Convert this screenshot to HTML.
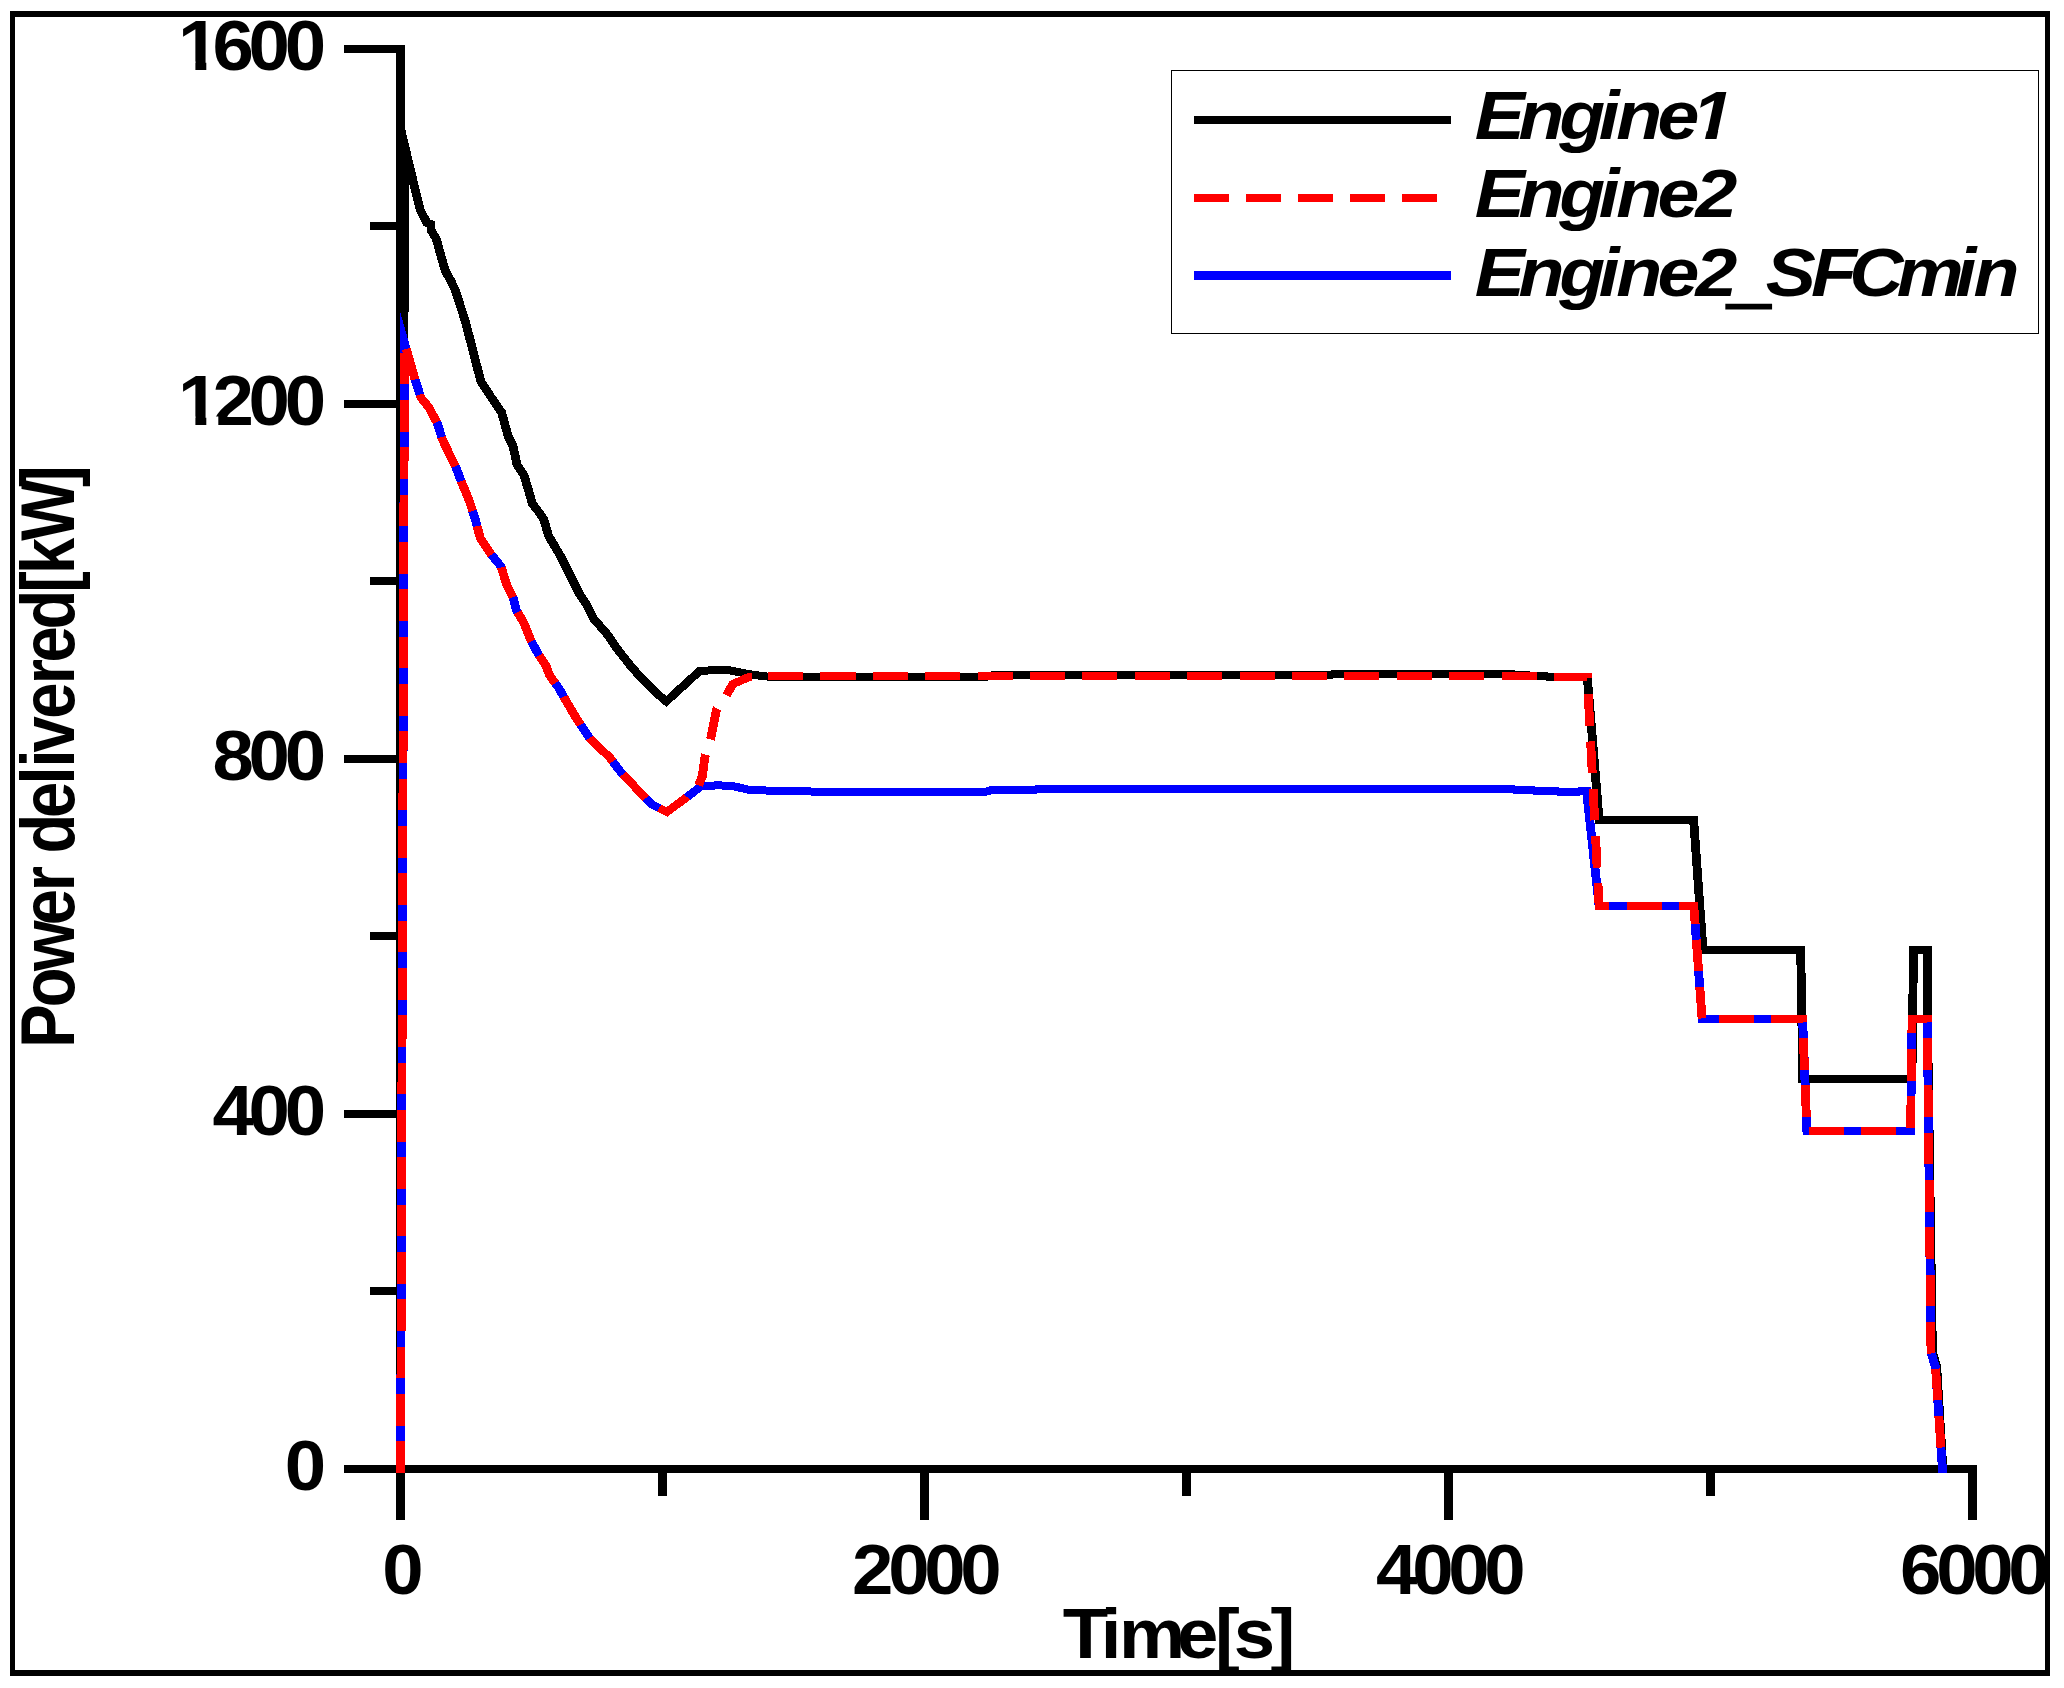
<!DOCTYPE html>
<html lang="en">
<head>
<meta charset="utf-8">
<title>Power delivered vs Time</title>
<style>
html,body{margin:0;padding:0;background:#fff}
body{width:2064px;height:1688px;overflow:hidden}
svg{display:block}
text{fill:#000}
</style>
</head>
<body>
<svg width="2064" height="1688" viewBox="0 0 2064 1688">
<rect x="0" y="0" width="2064" height="1688" fill="#fff"/>
<g id="axes">
<rect x="10" y="11" width="2040" height="6" fill="#000"/>
<rect x="10" y="1670" width="2040" height="6" fill="#000"/>
<rect x="10" y="11" width="5" height="1665" fill="#000"/>
<rect x="2045" y="11" width="5" height="1665" fill="#000"/>
<rect x="396" y="45" width="9" height="1428" fill="#000"/>
<rect x="344" y="1465" width="1633" height="8" fill="#000"/>
<rect x="344" y="45" width="52" height="8" fill="#000"/>
<rect x="344" y="400" width="52" height="8" fill="#000"/>
<rect x="344" y="755" width="52" height="8" fill="#000"/>
<rect x="344" y="1110" width="52" height="8" fill="#000"/>
<rect x="344" y="1465" width="52" height="8" fill="#000"/>
<rect x="370" y="222" width="26" height="8" fill="#000"/>
<rect x="370" y="577" width="26" height="8" fill="#000"/>
<rect x="370" y="932" width="26" height="8" fill="#000"/>
<rect x="370" y="1287" width="26" height="8" fill="#000"/>
<rect x="396" y="1473" width="9" height="47" fill="#000"/>
<rect x="920" y="1473" width="9" height="47" fill="#000"/>
<rect x="1444" y="1473" width="9" height="47" fill="#000"/>
<rect x="1968" y="1473" width="9" height="47" fill="#000"/>
<rect x="658" y="1473" width="9" height="23" fill="#000"/>
<rect x="1182" y="1473" width="9" height="23" fill="#000"/>
<rect x="1706" y="1473" width="9" height="23" fill="#000"/>
</g>
<g id="legend">
<rect x="1171.5" y="70.5" width="867" height="263" fill="none" stroke="#000" stroke-width="1"/>
<rect x="1194" y="116" width="257" height="8" fill="#000"/>
<rect x="1194" y="271" width="257" height="9" fill="#00f"/>
<rect x="1194.0" y="194" width="35" height="8" fill="#f00"/>
<rect x="1246.0" y="194" width="35" height="8" fill="#f00"/>
<rect x="1298.0" y="194" width="35" height="8" fill="#f00"/>
<rect x="1350.0" y="194" width="35" height="8" fill="#f00"/>
<rect x="1402.0" y="194" width="35" height="8" fill="#f00"/>
</g>
<g id="curves" transform="scale(1.1067,1)" shape-rendering="crispEdges">
<path d="M361.98 1469.00 L365.59 145.60 L373.99 184.50 L379.60 209.60 L385.83 223.00 L389.27 224.20 L389.63 230.70 L394.05 238.40 L399.75 261.00 L402.64 271.60 L406.70 279.30 L411.22 289.60 L420.08 320.00 L424.32 337.80 L434.54 381.60 L443.66 397.00 L453.24 412.40 L459.11 436.10 L463.45 445.60 L467.15 464.60 L473.57 475.30 L481.07 503.70 L485.95 510.70 L491.28 519.00 L495.53 535.60 L506.28 555.70 L514.86 574.70 L523.45 593.60 L529.86 604.30 L536.82 619.70 L546.94 631.60 L558.78 650.50 L571.61 668.30 L583.36 682.50 L591.94 692.00 L602.06 701.40 L631.97 671.20 L647.42 669.80 L660.25 670.50 L675.70 674.00 L691.06 676.40 L702.99 677.00 L890.94 677.00 L897.26 675.00 L1201.77 675.00 L1205.39 674.00 L1366.22 674.00 L1369.84 675.00 L1379.78 675.00 L1383.39 676.00 L1396.04 676.00 L1399.66 677.00 L1434.26 677.00 L1444.93 820.00 L1530.32 820.00 L1538.81 950.10 L1627.09 950.10 L1628.99 1079.00 L1727.57 1079.00 L1729.01 950.10 L1741.66 950.10 L1741.75 1030.00 L1746.09 1352.00 L1749.98 1367.00 L1755.58 1469.00" fill="none" stroke="#000" stroke-width="8" stroke-linejoin="miter" stroke-miterlimit="20" />
<path d="M361.98 1473.00 L365.50 343.00 L375.71 382.10 L380.32 397.60 L387.28 407.00 L395.32 423.60 L399.57 439.00 L405.71 453.30 L411.95 467.50 L416.92 481.70 L423.78 500.00 L429.11 517.80 L433.90 537.90 L443.03 553.30 L452.70 566.40 L458.03 585.30 L463.90 598.40 L466.61 610.20 L473.57 623.30 L479.99 641.00 L486.40 654.10 L493.36 665.90 L496.61 675.40 L505.11 688.40 L511.07 700.00 L520.56 717.90 L533.39 739.30 L550.56 757.00 L561.22 772.40 L582.63 797.30 L589.05 804.40 L602.42 812.00 L619.05 798.50 L632.96 786.70 L641.55 785.60 L650.58 785.40 L662.87 786.20 L676.97 790.00 L701.36 790.80 L737.33 791.60 L890.94 791.60 L896.36 790.00 L934.31 790.00 L937.92 789.00 L1366.22 789.00 L1369.84 790.00 L1384.30 790.00 L1387.91 791.00 L1405.98 791.00 L1409.60 792.00 L1424.96 792.00 L1428.57 791.00 L1433.63 791.00 L1444.93 905.80 L1530.50 905.80 L1538.00 1018.80 L1628.81 1018.80 L1632.69 1130.80 L1726.39 1130.80 L1727.75 1018.80 L1741.48 1018.80 L1744.83 1352.40 L1748.89 1367.00 L1755.13 1469.00 L1755.31 1473.00" fill="none" stroke="#00f" stroke-width="8" stroke-linejoin="miter" stroke-miterlimit="20" />
<path d="M361.98 1473.00 L365.50 343.00 L375.71 382.10 L380.32 397.60 L387.28 407.00 L395.32 423.60 L399.57 439.00 L405.71 453.30 L411.95 467.50 L416.92 481.70 L423.78 500.00 L429.11 517.80 L433.90 537.90 L443.03 553.30 L452.70 566.40 L458.03 585.30 L463.90 598.40 L466.61 610.20 L473.57 623.30 L479.99 641.00 L486.40 654.10 L493.36 665.90 L496.61 675.40 L505.11 688.40 L511.07 700.00 L520.56 717.90 L533.39 739.30 L550.56 757.00 L561.22 772.40 L582.63 797.30 L589.05 804.40 L602.42 812.00 L619.05 798.50 L630.70 786.50 L634.59 776.40 L637.03 756.50 L642.27 738.00 L647.42 709.60 L657.09 694.00 L662.24 684.00 L677.60 676.60 L694.05 676.00" fill="none" stroke="#f00" stroke-width="8" stroke-linejoin="miter" stroke-miterlimit="20" stroke-dasharray="31.65 15.69" stroke-dashoffset="0"/>
<path d="M694.05 676.00 L1389.72 676.00 L1396.95 677.00 L1434.26 677.00 L1444.93 905.80 L1530.50 905.80 L1538.00 1018.80 L1628.81 1018.80 L1632.69 1130.80 L1726.39 1130.80 L1727.75 1018.80 L1741.48 1018.80 L1744.83 1352.40 L1748.89 1367.00 L1754.72 1462.00" fill="none" stroke="#f00" stroke-width="8" stroke-linejoin="miter" stroke-miterlimit="20" stroke-dasharray="31.65 15.69" stroke-dashoffset="0"/>
</g>
<g id="labels">
<text transform="translate(320.688,70) scale(1.1067,1) scale(0.96,1)" font-size="70" letter-spacing="-5" text-anchor="end" dx="0.00 -1.41 0.00 0.00" style="font-family:'Liberation Sans',Arial,Helvetica,sans-serif;font-weight:bold">1600</text>
<text transform="translate(320.688,425) scale(1.1067,1) scale(0.96,1)" font-size="70" letter-spacing="-5" text-anchor="end" dx="0.00 -1.41 0.00 0.00" style="font-family:'Liberation Sans',Arial,Helvetica,sans-serif;font-weight:bold">1200</text>
<text transform="translate(320.688,780) scale(1.1067,1) scale(0.96,1)" font-size="70" letter-spacing="-5" text-anchor="end" style="font-family:'Liberation Sans',Arial,Helvetica,sans-serif;font-weight:bold">800</text>
<text transform="translate(320.688,1135) scale(1.1067,1) scale(0.96,1)" font-size="70" letter-spacing="-5" text-anchor="end" style="font-family:'Liberation Sans',Arial,Helvetica,sans-serif;font-weight:bold">400</text>
<text transform="translate(320.688,1490) scale(1.1067,1) scale(0.96,1)" font-size="70" letter-spacing="-5" text-anchor="end" style="font-family:'Liberation Sans',Arial,Helvetica,sans-serif;font-weight:bold">0</text>
<text transform="translate(400.2,1593.5) scale(1.1067,1) scale(0.96,1)" font-size="70" letter-spacing="-5" text-anchor="middle" style="font-family:'Liberation Sans',Arial,Helvetica,sans-serif;font-weight:bold">0</text>
<text transform="translate(924.2,1593.5) scale(1.1067,1) scale(0.96,1)" font-size="70" letter-spacing="-5" text-anchor="middle" style="font-family:'Liberation Sans',Arial,Helvetica,sans-serif;font-weight:bold">2000</text>
<text transform="translate(1448.2,1593.5) scale(1.1067,1) scale(0.96,1)" font-size="70" letter-spacing="-5" text-anchor="middle" style="font-family:'Liberation Sans',Arial,Helvetica,sans-serif;font-weight:bold">4000</text>
<text transform="translate(1972.2,1593.5) scale(1.1067,1) scale(0.96,1)" font-size="70" letter-spacing="-5" text-anchor="middle" style="font-family:'Liberation Sans',Arial,Helvetica,sans-serif;font-weight:bold">6000</text>
<text transform="translate(1062.68,1658) scale(1.1067,1) scale(0.96,1)" font-size="70" letter-spacing="0" text-anchor="start" dx="0.00 -5.61 -2.37 -7.70 -2.98 -5.79 -4.38" style="font-family:'Liberation Sans',Arial,Helvetica,sans-serif;font-weight:bold">Time[s]</text>
<text transform="translate(74,1047.83) scale(1.1067,1) rotate(-90) scale(0.957,1)" font-size="68" letter-spacing="0" text-anchor="start" dx="0.00 -2.99 -3.50 -5.11 -2.46 0.00 -5.96 -4.27 -2.93 -0.97 -3.25 -2.62 -1.83 -3.77 -3.25 -3.14 -3.14 -3.04 -7.95" style="font-family:'Liberation Sans',Arial,Helvetica,sans-serif;font-weight:bold">Power delivered[kW]</text>
<text transform="translate(1474.78,139.1) scale(1.1067,1)" font-size="68" letter-spacing="0" text-anchor="start" dx="0.00 -5.90 -4.57 -6.03 -2.91 -4.43 -6.56" style="font-family:'Liberation Sans',Arial,Helvetica,sans-serif;font-weight:bold;font-style:italic">Engine1</text>
<text transform="translate(1474.78,217) scale(1.1067,1)" font-size="68" letter-spacing="0" text-anchor="start" dx="0.00 -5.90 -4.57 -6.03 -2.91 -4.43 -3.31" style="font-family:'Liberation Sans',Arial,Helvetica,sans-serif;font-weight:bold;font-style:italic">Engine2</text>
<text transform="translate(1474.78,295.9) scale(1.1067,1)" font-size="68" letter-spacing="0" text-anchor="start" dx="0.00 -5.90 -4.57 -6.03 -2.91 -4.43 -3.31 -5.47 -6.85 -4.36 -7.07 -6.13 -7.28 -2.68" style="font-family:'Liberation Sans',Arial,Helvetica,sans-serif;font-weight:bold;font-style:italic">Engine2<tspan dy="4.1" stroke="#000" stroke-width="3.2" stroke-linejoin="miter">_</tspan><tspan dy="-4.1">SFCmin</tspan></text>
<rect x="178" y="61.5" width="17.4" height="9.6" fill="#fff"/>
<rect x="206.3" y="61.5" width="12" height="9.6" fill="#fff"/>
<rect x="178" y="416.5" width="17.4" height="9.6" fill="#fff"/>
<rect x="206.3" y="416.5" width="12" height="9.6" fill="#fff"/>
<polygon points="1694.4,130.4 1706.9,130.4 1704.9,139.8 1692.3,139.8" fill="#fff"/>
<polygon points="1718.3,130.4 1731,130.4 1731,139.8 1716.3,139.8" fill="#fff"/>
</g>
</svg>
</body>
</html>
